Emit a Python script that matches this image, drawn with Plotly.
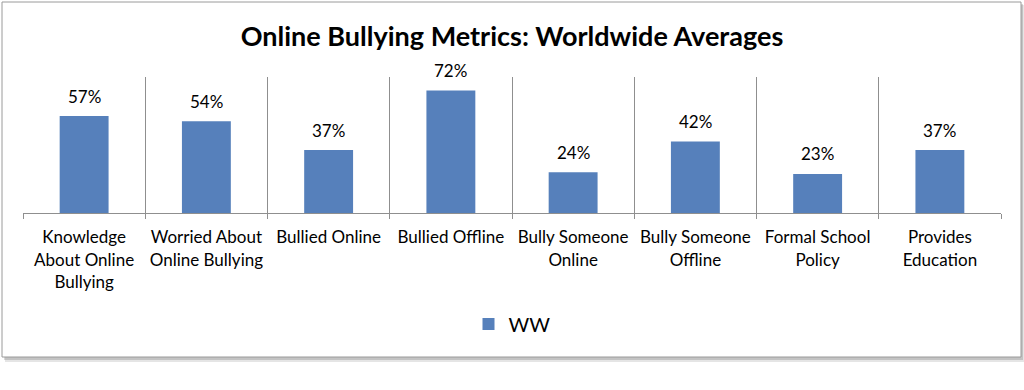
import plotly.graph_objects as go

categories = ["Knowledge About Online Bullying", "Worried About Online Bullying", "Bullied Online",
              "Bullied Offline", "Bully Someone Online", "Bully Someone Offline",
              "Formal School Policy", "Provides Education"]
tick_labels = ["Knowledge<br>About Online<br>Bullying", "Worried About<br>Online Bullying", "Bullied Online",
               "Bullied Offline", "Bully Someone<br>Online", "Bully Someone<br>Offline",
               "Formal School<br>Policy", "Provides<br>Education"]
ww_values = [57, 54, 37, 72, 24, 42, 23, 37]
series_name = "WW"
title_text = "Online Bullying Metrics: Worldwide Averages"

FONT = "Lato"
BAR = "#5680BB"
GRID = "#8f8f8f"

W, H = 1024, 390
L, R, T, B = 23, 23, 77, 177
pw, ph = W - L - R, H - T - B


def px_x(x):
    return (x - L) / pw


def px_y(y):
    return (H - B - y) / ph


fig = go.Figure()
fig.add_trace(go.Bar(
    x=categories, y=ww_values, name=series_name,
    marker=dict(color=BAR, line=dict(width=0)),
    width=0.4, showlegend=True,
))

for c, v in zip(categories, ww_values):
    fig.add_annotation(x=c, y=v, text=f"{v}%", showarrow=False,
                       yanchor="middle", yshift=20,
                       font=dict(family=FONT, size=17, color="#000"))

shapes = []
# shadow
shapes.append(dict(type="rect", xref="paper", yref="paper", layer="below",
                   x0=px_x(5), x1=px_x(1024), y0=px_y(5), y1=px_y(362),
                   line=dict(width=0), fillcolor="rgba(0,0,0,0.10)"))
shapes.append(dict(type="rect", xref="paper", yref="paper", layer="below",
                   x0=px_x(4), x1=px_x(1023), y0=px_y(4), y1=px_y(360),
                   line=dict(width=0), fillcolor="rgba(0,0,0,0.15)"))
# border box
shapes.append(dict(type="rect", xref="paper", yref="paper", layer="below",
                   x0=px_x(2), x1=px_x(1021), y0=px_y(2), y1=px_y(357),
                   line=dict(width=1, color="#9a9a9a"), fillcolor="white"))

fig.update_layout(
    width=W, height=H,
    margin=dict(l=L, r=R, t=T, b=B),
    paper_bgcolor="white", plot_bgcolor="rgba(0,0,0,0)",
    shapes=shapes,
    title=dict(text=f"<b>{title_text}</b>", x=0.5, xref="paper", xanchor="center",
               y=1 - 37 / H, yanchor="middle",
               font=dict(family=FONT, size=27, color="#000")),
    font=dict(family=FONT, color="#000"),
    bargap=0.6,
    showlegend=True,
    legend=dict(orientation="h", x=0.5, xanchor="center", y=px_y(324), yanchor="middle",
                font=dict(family=FONT, size=20, color="#000"), bgcolor="rgba(0,0,0,0)"),
    xaxis=dict(
        tickmode="array", tickvals=categories, ticktext=tick_labels,
        tickson="boundaries", ticks="outside", ticklen=5, tickcolor=GRID,
        showgrid=True, gridcolor=GRID, gridwidth=1,
        showline=True, linecolor=GRID, linewidth=1,
        tickfont=dict(family=FONT, size=17, color="#000"),
        tickangle=0, fixedrange=True, ticklabelstandoff=9,
    ),
    yaxis=dict(range=[0, 80], visible=False, showgrid=False, zeroline=False, fixedrange=True),
)

fig.write_html("out.html", config={"displayModeBar": False},
               post_script="document.body.style.margin='0';document.body.style.overflow='hidden';")
